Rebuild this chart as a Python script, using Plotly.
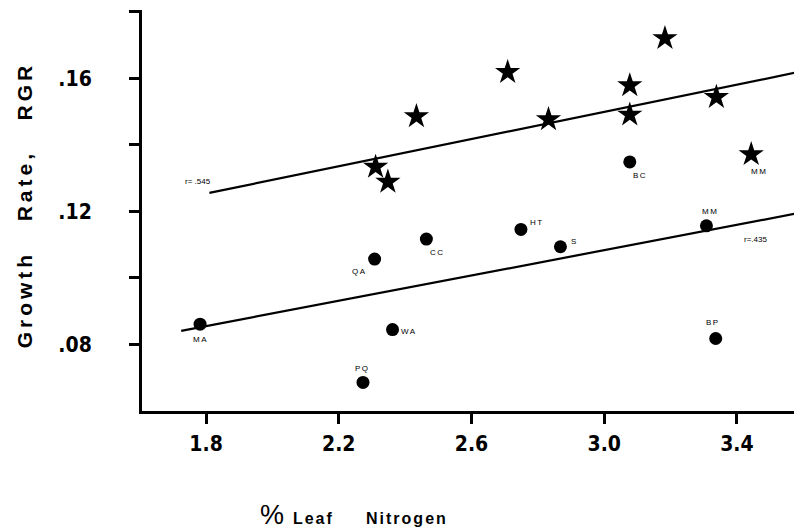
import plotly.graph_objects as go

# Upper group (stars)
star_x = [2.311, 2.348, 2.434, 2.709, 2.832, 3.077, 3.077, 3.183, 3.338, 3.443]
star_y = [0.1333, 0.1288, 0.1485, 0.1618, 0.1476, 0.1578, 0.1490, 0.1720, 0.1543, 0.1371]
star_labels = ["", "", "", "", "", "", "", "", "", "MM"]

# Lower group (circles)
circ_x = [1.782, 2.308, 2.273, 2.362, 2.464, 2.749, 2.868, 3.077, 3.308, 3.336]
circ_y = [0.0860, 0.1056, 0.0685, 0.0844, 0.1116, 0.1145, 0.1093, 0.1348, 0.1156, 0.0817]
circ_labels = ["MA", "QA", "PQ", "WA", "CC", "HT", "S", "BC", "MM", "BP"]

# Regression lines (end points)
upper_line_x = [1.81, 3.574]
upper_line_y = [0.1255, 0.1616]
lower_line_x = [1.725, 3.574]
lower_line_y = [0.0840, 0.1192]
r_labels = ["r= .545", "r=.435"]

x_tickvals = [1.8, 2.2, 2.6, 3.0, 3.4]
x_ticktext = ["1.8", "2.2", "2.6", "3.0", "3.4"]
y_tickvals = [0.08, 0.10, 0.12, 0.14, 0.16, 0.18]
y_ticktext = [".08", "", ".12", "", ".16", ""]

fig = go.Figure()
fig.add_trace(go.Scatter(x=upper_line_x, y=upper_line_y, mode="lines",
                         line=dict(color="black", width=2.2), showlegend=False))
fig.add_trace(go.Scatter(x=lower_line_x, y=lower_line_y, mode="lines",
                         line=dict(color="black", width=2.2), showlegend=False))
fig.add_trace(go.Scatter(x=star_x, y=star_y, mode="markers",
                         marker=dict(symbol="star", size=19, color="black",
                                     line=dict(width=0)), showlegend=False))
fig.add_trace(go.Scatter(x=circ_x, y=circ_y, mode="markers",
                         marker=dict(symbol="circle", size=13, color="black",
                                     line=dict(width=0)), showlegend=False))

lab_font = dict(family="Liberation Sans, Arial, sans-serif", size=8, color="black")
sp = "letter-spacing:1.5px"
circ_shift = [(0, -15), (-15, -12), (0, 14), (16, -2), (11, -13), (16, 7),
              (14, 5), (10, -14), (4, 14), (-3, 16)]
for x, y, t, (dx, dy) in zip(circ_x, circ_y, circ_labels, circ_shift):
    fig.add_annotation(x=x, y=y, text=f"<span style='{sp}'>{t}</span>", showarrow=False,
                       xshift=dx, yshift=dy, font=lab_font)
for x, y, t in zip(star_x, star_y, star_labels):
    if t:
        fig.add_annotation(x=x, y=y, text=f"<span style='{sp}'>{t}</span>", showarrow=False,
                           xshift=8, yshift=-17, font=lab_font)

fig.add_annotation(x=1.731, y=0.1290, text=r_labels[0], showarrow=False,
                   xanchor="left", font=lab_font)
fig.add_annotation(x=3.415, y=0.1116, text=r_labels[1], showarrow=False,
                   xanchor="left", font=lab_font)

# Axis titles
fig.add_annotation(xref="paper", yref="paper", x=-0.178, y=0.515,
                   xanchor="center", yanchor="middle",
                   text="<b><span style='letter-spacing:4px'>Growth&nbsp;&nbsp;&nbsp;Rate,&nbsp;&nbsp;&nbsp;RGR</span></b>",
                   textangle=-90, showarrow=False,
                   font=dict(family="Liberation Sans, Arial, sans-serif", size=21,
                             color="black"))
fig.add_annotation(xref="paper", yref="paper", x=0.176, xanchor="left", y=-0.259,
                   yanchor="middle",
                   text="<span style='font-size:27px'>%</span>&nbsp;&nbsp;<b><span style='letter-spacing:2px'>Leaf&nbsp;&nbsp;&nbsp;&nbsp;&nbsp;Nitrogen</span></b>",
                   showarrow=False,
                   font=dict(family="Liberation Sans, Arial, sans-serif", size=16, color="black"))

tick_font = dict(family="Liberation Sans Narrow, DejaVu Sans Condensed, Liberation Sans, sans-serif",
                 size=21, color="black", weight="bold")
fig.update_xaxes(range=[1.607, 3.59], tickvals=x_tickvals, ticktext=x_ticktext,
                 showline=True, linewidth=3, linecolor="black", showgrid=False,
                 zeroline=False, ticks="outside", ticklen=10, tickwidth=3,
                 tickcolor="black", tickfont=tick_font, ticklabelstandoff=2)
fig.update_yaxes(range=[0.0599, 0.1805], tickvals=y_tickvals, ticktext=y_ticktext,
                 showline=True, linewidth=3, linecolor="black", showgrid=False,
                 zeroline=False, ticks="outside", ticklen=10, tickwidth=3,
                 tickcolor="black", tickfont=tick_font, ticklabelstandoff=33)
fig.update_layout(width=794, height=524, margin=dict(l=134, r=2, t=2, b=121),
                  plot_bgcolor="white", paper_bgcolor="white", showlegend=False)
fig.write_html("out.html")
